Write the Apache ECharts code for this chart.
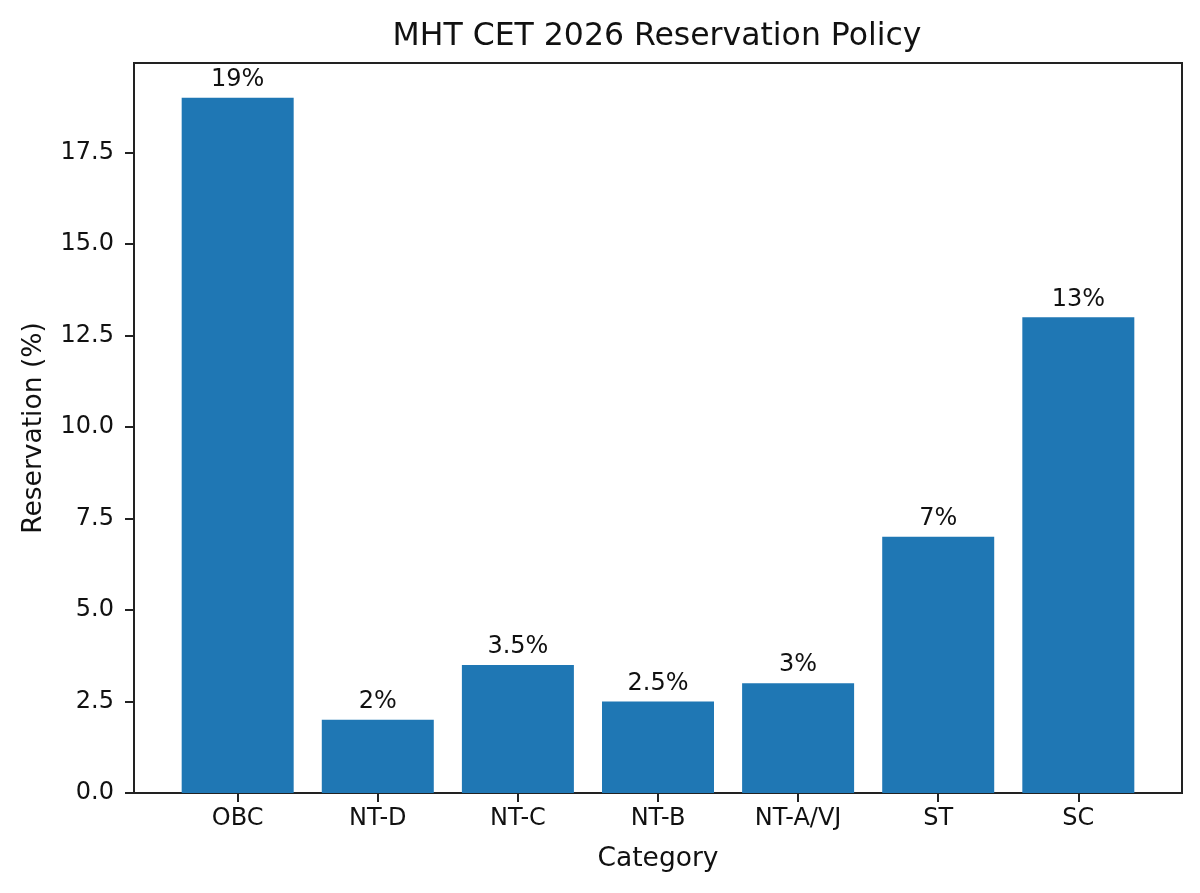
<!DOCTYPE html>
<html>
<head>
<meta charset="utf-8">
<script src="https://cdn.jsdelivr.net/npm/echarts@6/dist/echarts.min.js"></script>
<style>
  html, body { margin: 0; padding: 0; background: #fff; }
  #chart { width: 1200px; height: 893px; }
</style>
</head>
<body>
<div id="chart"></div>
<script>
(function() {
  var categories = ['OBC', 'NT-D', 'NT-C', 'NT-B', 'NT-A/VJ', 'ST', 'SC'];
  var reservation = [19, 2, 3.5, 2.5, 3, 7, 13];
  var yTicks = [0, 2.5, 5, 7.5, 10, 12.5, 15, 17.5];

  var font = 'DejaVu Sans';
  var ink = '#111';
  var blue = '#1f77b4';

  var positions = categories.map(function(c, i) { return i; });
  var barData = reservation.map(function(v, i) { return [i, v]; });

  var chart = echarts.init(document.getElementById('chart'), null, { renderer: 'canvas' });
  chart.setOption({
    animation: false,
    backgroundColor: '#fff',
    textStyle: { fontFamily: font },
    title: {
      text: 'MHT CET 2026 Reservation Policy',
      left: 652,
      textAlign: 'center',
      top: 16,
      textStyle: { fontFamily: font, fontSize: 31.5, fontWeight: 'normal', color: ink }
    },
    grid: {
      left: 134, right: 18, top: 63, bottom: 100,
      show: true, borderColor: '#222', borderWidth: 2, backgroundColor: 'transparent'
    },
    xAxis: {
      type: 'value',
      min: -0.74,
      max: 6.74,
      name: 'Category',
      nameLocation: 'middle',
      nameGap: 53,
      nameTextStyle: { fontFamily: font, fontSize: 26.5, color: ink },
      axisLine: { show: true, onZero: false, lineStyle: { color: '#222', width: 2 } },
      axisTick: { show: true, length: 9, customValues: positions, lineStyle: { color: '#222', width: 2 } },
      axisLabel: {
        customValues: positions,
        margin: 14,
        fontFamily: font, fontSize: 24, color: ink,
        formatter: function(v) { return categories[Math.round(v)]; }
      },
      splitLine: { show: false }
    },
    yAxis: {
      type: 'value',
      min: 0,
      max: 19.95,
      name: 'Reservation (%)',
      nameLocation: 'middle',
      nameGap: 86,
      nameTextStyle: { fontFamily: font, fontSize: 26.5, color: ink },
      axisLine: { show: true, onZero: false, lineStyle: { color: '#222', width: 2 } },
      axisTick: { show: true, length: 9, customValues: yTicks, lineStyle: { color: '#222', width: 2 } },
      axisLabel: {
        customValues: yTicks,
        margin: 20,
        fontFamily: font, fontSize: 24, color: ink,
        formatter: function(v) { return v.toFixed(1); }
      },
      splitLine: { show: false }
    },
    series: [{
      type: 'bar',
      data: barData,
      barWidth: 112,
      itemStyle: { color: blue },
      label: {
        show: true,
        position: 'top',
        distance: 6,
        fontFamily: font, fontSize: 24, color: ink,
        formatter: function(p) { return p.value[1] + '%'; }
      }
    }]
  });
})();
</script>
</body>
</html>
